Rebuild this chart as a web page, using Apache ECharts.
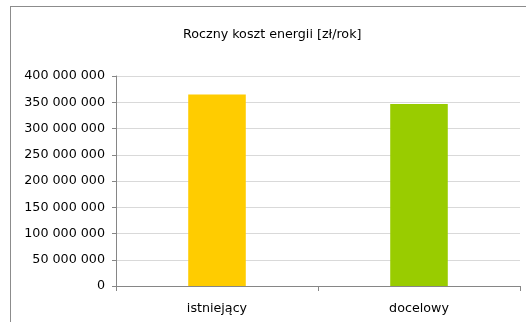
<!DOCTYPE html>
<html><head><meta charset="utf-8">
<script src="https://cdn.jsdelivr.net/npm/echarts@6/dist/echarts.min.js"></script>
<style>
html,body{margin:0;padding:0;background:#fff;overflow:hidden;width:526px;height:322px;}
#frame{position:absolute;left:10px;top:6px;width:1000px;height:1000px;border-left:1.5px solid #8c8c8c;border-top:1.5px solid #8c8c8c;}
#c{position:absolute;left:0;top:0;width:526px;height:322px;}
</style>
</head><body><div id="frame"></div><div id="c"></div>
<script>
const title = 'Roczny koszt energii [zł/rok]';
const categories = ['istniejący', 'docelowy'];
const values = [365000000, 346500000];
const barColors = ['#FFCC00', '#99CC00'];
const yTicks = { min: 0, max: 400000000, interval: 50000000 };

function fmt(v) {
  return String(Math.round(v)).replace(/\B(?=(\d{3})+(?!\d))/g, ' ');
}
const font = 'DejaVu Sans';
const chart = echarts.init(document.getElementById('c'), null, { renderer: 'canvas' });
chart.setOption({
  animation: false,
  backgroundColor: 'transparent',
  title: {
    text: title, left: 178, top: 23,
    textStyle: { fontFamily: font, fontSize: 12.7, fontWeight: 'normal', color: '#000' }
  },
  grid: { left: 116, right: 6, top: 76, bottom: 36, containLabel: false },
  xAxis: {
    type: 'category', data: categories,
    axisLine: { lineStyle: { color: '#868686' } },
    axisTick: { show: true, length: 5, alignWithLabel: false, lineStyle: { color: '#868686' } },
    axisLabel: { fontFamily: font, fontSize: 12.7, color: '#000', margin: 16 }
  },
  yAxis: {
    type: 'value', min: yTicks.min, max: yTicks.max, interval: yTicks.interval,
    axisLine: { show: true, lineStyle: { color: '#868686' } },
    axisTick: { show: true, length: 4, lineStyle: { color: '#868686' } },
    splitLine: { lineStyle: { color: '#d9d9d9' } },
    axisLabel: { fontFamily: font, fontSize: 12.7, color: '#000', margin: 11, formatter: fmt }
  },
  series: [{
    type: 'bar', barWidth: '28.5%',
    data: values.map((v, i) => ({ value: v, itemStyle: { color: barColors[i] } }))
  }]
});
</script></body></html>
